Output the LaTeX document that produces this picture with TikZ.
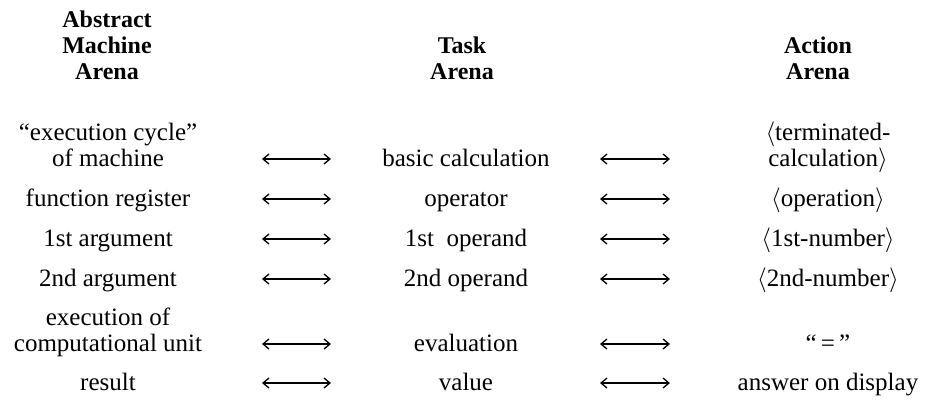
\documentclass[tikz,border=0pt]{standalone}
\usepackage{fontspec}
\setmainfont{Liberation Serif}
\usetikzlibrary{arrows.meta}
\begin{document}
\begin{tikzpicture}[x=1pt,y=-1pt,
  cell/.style={anchor=base,align=center,inner sep=0pt,font=\fontsize{25}{26}\selectfont},
  head/.style={anchor=base,align=center,inner sep=0pt,font=\fontsize{24}{26}\selectfont\bfseries},
  link/.style={{Straight Barb[length=6pt,width=10pt]}-{Straight Barb[length=6pt,width=10pt]},line width=1.3pt}]
\useasboundingbox (0,0) rectangle (930,402);

% angle brackets about the height of the text
\newcommand\lab{{\fontsize{24}{24}\selectfont$\langle$}}
\newcommand\rab{{\fontsize{24}{24}\selectfont$\rangle$}}

% column headings (anchored at the baseline of their last line)
\node[head] (hA) at (107,79) {Abstract\\Machine\\Arena};
\node[head] (hT) at (462,79) {Task\\Arena};
\node[head] (hC) at (818,79) {Action\\Arena};

% row 1
\node[cell] (a1) at (108,166) {``execution cycle''\\of machine};
\node[cell] (t1) at (466,166) {basic calculation};
\node[cell] (c1) at (828,166) {\lab terminated-\\calculation\rab};
% row 2
\node[cell] (a2) at (108,206) {function register};
\node[cell] (t2) at (466,206) {operator};
\node[cell] (c2) at (828,206) {\lab operation\rab};
% row 3
\node[cell] (a3) at (108,246) {1st argument};
\node[cell] (t3) at (466,246) {1st\ \ operand};
\node[cell] (c3) at (828,246) {\lab 1st-number\rab};
% row 4
\node[cell] (a4) at (108,286) {2nd argument};
\node[cell] (t4) at (466,286) {2nd operand};
\node[cell] (c4) at (828,286) {\lab 2nd-number\rab};
% row 5
\node[cell] (a5) at (108,351) {execution of\\computational unit};
\node[cell] (t5) at (466,351) {evaluation};
\node[cell] (c5) at (828,351) {``\,=\,''};
% row 6
\node[cell] (a6) at (108,390) {result};
\node[cell] (t6) at (466,390) {value};
\node[cell] (c6) at (828,390) {answer on display};

% correspondence arrows, at mid x-height of each row
\foreach \r/\y in {1/166,2/206,3/246,4/286,5/351,6/390}{
  \coordinate (l\r a) at (262,\y-7);
  \coordinate (l\r b) at (331,\y-7);
  \coordinate (r\r a) at (600,\y-7);
  \coordinate (r\r b) at (670,\y-7);
  \draw[link] (l\r a) -- (l\r b);
  \draw[link] (r\r a) -- (r\r b);
}
\end{tikzpicture}
\end{document}
